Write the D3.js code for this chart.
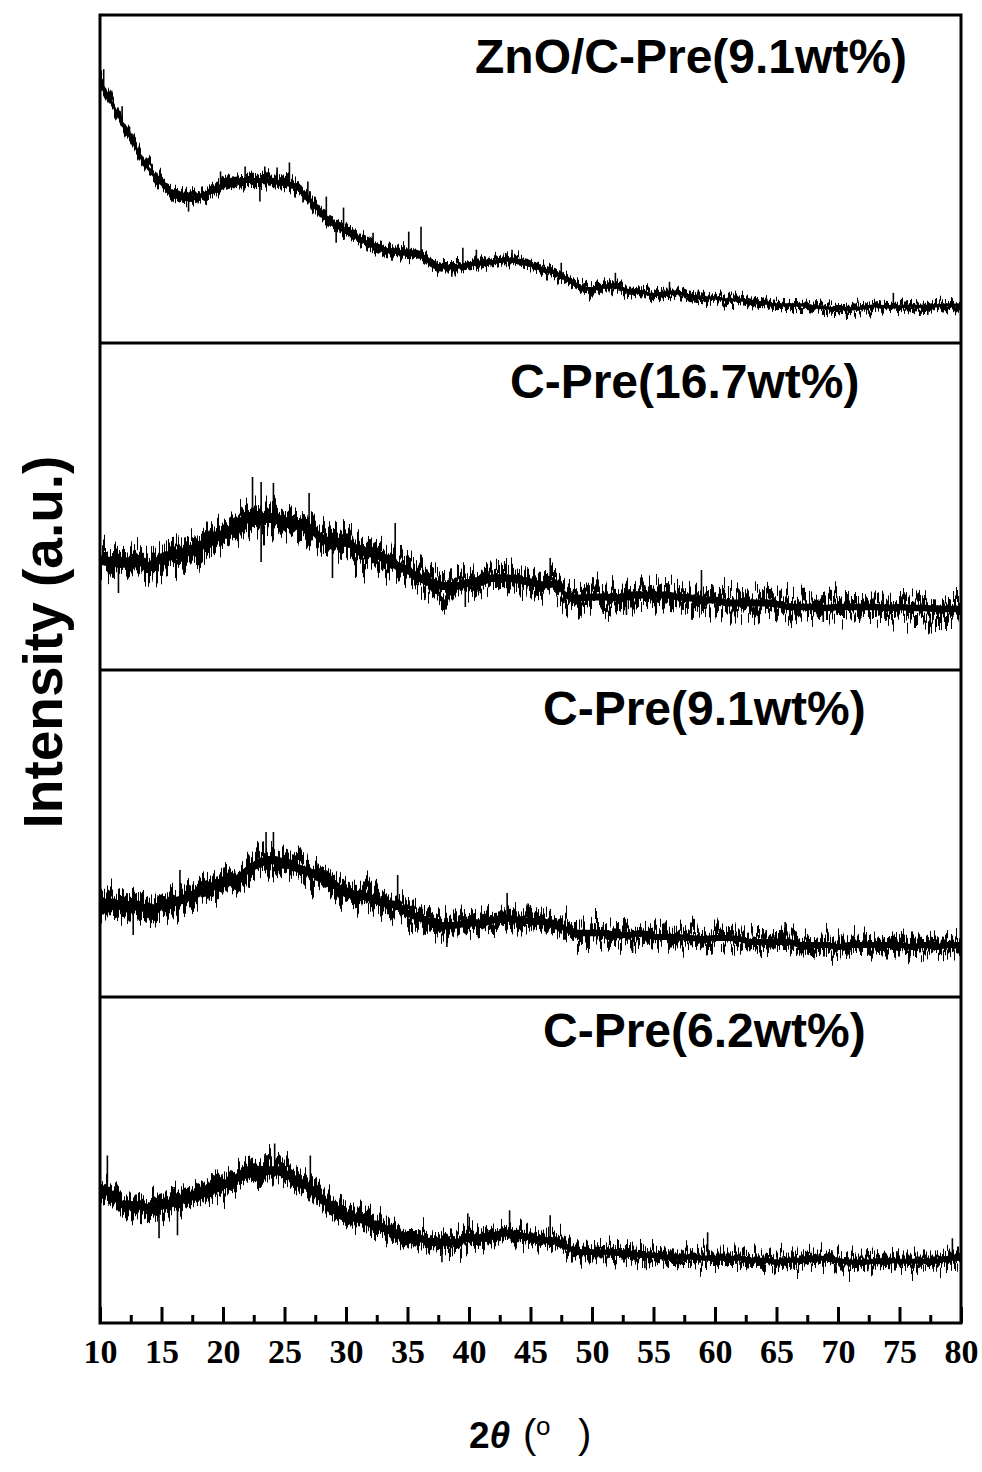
<!DOCTYPE html>
<html><head><meta charset="utf-8">
<script src="https://cdn.jsdelivr.net/npm/d3@7/dist/d3.min.js"></script>
<style>body{margin:0;background:#fff}</style>
</head><body>
<svg id="c" width="982" height="1472"></svg>
<script>
// 2θ sampling grid (degrees)
const twoTheta = [10,11,12,13,14,15,16,17,18,19,20,21,22,23,24,25,26,27,28,29,30,31,32,33,34,35,36,37,38,39,40,41,42,43,44,45,46,47,48,49,50,51,52,53,54,55,56,57,58,59,60,61,62,63,64,65,66,67,68,69,70,71,72,73,74,75,76,77,78,79,80];
const panelLabels = ["ZnO/C-Pre(9.1wt%)", "C-Pre(16.7wt%)", "C-Pre(9.1wt%)", "C-Pre(6.2wt%)"];
// mean intensity (a.u., offset within each panel)
const sZnO91 = [263,238,215,193,173,159,149,144,146,151,157,161,162,162,161,159,156,143,130,119,111,105,98,93,91,90,88,79,76,76,78,80,81,83,82,78,73,70,63,56,54,56,56,52,51,48,50,50,46,45,45,43,43,41,40,38,38,38,36,35,34,34,35,37,36,36,37,36,37,38,37];
const sC167 = [110,108,107,110,103,112,115,118,123,132,135,143,152,152,152,148,145,142,132,127,128,120,117,113,105,100,92,87,84,84,87,88,92,92,90,88,85,86,74,72,73,73,72,75,75,75,75,73,72,70,70,67,67,67,67,66,63,63,63,62,63,63,63,63,62,63,62,62,61,61,61];
const sC91 = [94,94,90,92,87,92,95,99,105,110,114,117,127,134,137,134,129,125,120,114,104,102,99,94,92,84,79,75,71,72,74,74,77,79,77,76,75,74,67,64,64,64,62,62,64,60,60,60,59,58,59,59,58,55,55,55,55,52,52,52,50,52,52,52,52,52,50,52,50,52,52];
const sC62 = [136,128,118,118,115,118,121,126,130,133,138,145,150,153,153,150,143,136,125,115,108,105,100,96,90,85,85,81,81,81,85,85,88,90,88,86,83,83,76,71,71,71,70,70,68,68,66,66,66,65,65,65,65,63,63,61,63,63,65,65,63,61,61,62,63,62,62,62,62,65,65];
// noise half-width at 2θ = 10,20,...,80
const noiseAt = [10,20,30,40,50,60,70,80];
const nZnO91 = [8,8,8,6,6,5,5,5];
const nC167 = [15,16,15,12,11,11,10,10];
const nC91 = [14,14,13,11,10,9,9,9];
const nC62 = [13,14,13,11,9,8,8,8];
// isolated spikes: [2θ, intensity]
const kZnO91 = [[10.3,273],[11.8,236],[12.4,216],[14.6,170],[17.2,131],[19.8,171],[21.8,176],[23.0,141],[23.4,176],[24.4,175],[25.4,180],[26.5,140],[26.9,161],[28.4,146],[29.2,100],[29.8,135],[32.2,110],[35.1,111],[36.1,116],[38.6,66],[39.5,95],[40.6,93],[43.5,93],[47.5,80],[51.9,70],[56.3,61],[70.7,26],[74.5,50],[77.3,28]];
const kC167 = [[11.5,77],[22.4,193],[23.1,188],[23.1,108],[24.1,187],[27.0,177],[28.9,92],[34.0,147],[39.7,63],[46.6,112],[52.8,55],[58.9,100],[68.8,48]];
const kC91 = [[12.7,62],[16.5,127],[23.5,165],[24.1,165],[34.2,122],[38.2,50],[43.1,104],[53.3,44],[65.7,75]];
const kC62 = [[10.6,168],[14.8,85],[16.3,88],[24.2,180],[27.1,168],[37.8,61],[39.9,110],[43.3,113],[46.6,108],[54.3,55],[59.4,91],[79.3,85]];
const majorTicks = [10,15,20,25,30,35,40,45,50,55,60,65,70,75,80];
const minorTicks = [12.5,17.5,22.5,27.5,32.5,37.5,42.5,47.5,52.5,57.5,62.5,67.5,72.5,77.5];

const series = [sZnO91, sC167, sC91, sC62];
const noises = [nZnO91, nC167, nC91, nC62];
const spikes = [kZnO91, kC167, kC91, kC62];
const jitter = [28, 64, 56, 52];   // rendering texture strength (px) for the dense scan noise

const svg = d3.select("#c");
const L = 100, R = 961;
const bounds = [15, 343, 670, 997, 1323];
const x = d3.scaleLinear().domain([10, 80]).range([L, R]);

const defs = svg.append("defs");
defs.append("clipPath").attr("id","clip")
  .append("rect").attr("x",L).attr("y",bounds[0]).attr("width",R-L).attr("height",bounds[4]-bounds[0]);
jitter.forEach((s, i) => {
  [0,1].forEach(k => {
    const f = defs.append("filter").attr("id",`tex${i}_${k}`).attr("x","-2%").attr("y","-80%")
      .attr("width","104%").attr("height","260%").attr("color-interpolation-filters","sRGB");
    f.append("feTurbulence").attr("type","fractalNoise").attr("baseFrequency", k ? "0.8 0.004" : "0.35 0.004")
      .attr("numOctaves",2).attr("seed",i*3+k+2).attr("result","n");
    f.append("feColorMatrix").attr("in","n").attr("type","matrix")
      .attr("values","0 0 0 0 0.5  0 1 0 0 0  0 0 1 0 0  0 0 0 0 1").attr("result","m");
    f.append("feDisplacementMap").attr("in","SourceGraphic").attr("in2","m").attr("scale", k ? s*0.8 : s)
      .attr("xChannelSelector","R").attr("yChannelSelector","G");
  });
});

const plot = svg.append("g").attr("clip-path","url(#clip)");
const labelPos = [[475,73],[510,398],[543,725],[543,1047]];

series.forEach((vals, i) => {
  const y = d3.scaleLinear().domain([0, 327]).range([bounds[i+1], bounds[i]]);
  const hw = d3.scaleLinear().domain(noiseAt).range(noises[i]);
  const data = twoTheta.map((t, j) => ({t, v: vals[j]}));
  const band = f => d3.area().x(d => x(d.t)).y0(d => y(d.v - f*hw(d.t))).y1(d => y(d.v + f*hw(d.t)))
    .curve(d3.curveMonotoneX)(data);
  plot.append("path").attr("d", band(0.6)).attr("fill", "#000").attr("filter", `url(#tex${i}_0)`);
  plot.append("path").attr("d", band(0.45)).attr("fill", "#000").attr("filter", `url(#tex${i}_1)`);
  plot.append("path").attr("d", band(0.32)).attr("fill", "#000");
  const mean = d3.scaleLinear().domain(twoTheta).range(vals);
  plot.selectAll(null).data(spikes[i]).enter().append("line")
    .attr("x1", d => x(d[0])).attr("x2", d => x(d[0]))
    .attr("y1", d => y(mean(d[0]))).attr("y2", d => y(d[1]))
    .attr("stroke","#000").attr("stroke-width",1.6);
  svg.append("text").attr("x", labelPos[i][0]).attr("y", labelPos[i][1])
    .attr("font-family","'Liberation Sans', Arial, sans-serif").attr("font-weight","bold")
    .attr("font-size",48).attr("fill","#000").text(panelLabels[i]);
});

// frame and dividers
svg.append("rect").attr("x",L).attr("y",bounds[0]).attr("width",R-L).attr("height",bounds[4]-bounds[0])
  .attr("fill","none").attr("stroke","#000").attr("stroke-width",3);
[1,2,3].forEach(k => svg.append("line").attr("x1",L).attr("x2",R).attr("y1",bounds[k]).attr("y2",bounds[k])
  .attr("stroke","#000").attr("stroke-width",3));

// x axis ticks
const axMaj = svg.append("g").attr("transform",`translate(0,${bounds[4]})`)
  .call(d3.axisBottom(x).tickValues(majorTicks).tickSize(-16).tickPadding(16).tickFormat(d3.format("d")));
axMaj.select(".domain").remove();
axMaj.selectAll(".tick line").attr("stroke-width",3);
axMaj.selectAll("text").attr("font-family","'Liberation Serif','Times New Roman',serif")
  .attr("font-weight","bold").attr("font-size",34).attr("fill","#000");
const axMin = svg.append("g").attr("transform",`translate(0,${bounds[4]})`)
  .call(d3.axisBottom(x).tickValues(minorTicks).tickSize(-8).tickFormat(""));
axMin.select(".domain").remove();
axMin.selectAll(".tick line").attr("stroke-width",3);

// axis titles
svg.append("text").attr("transform","translate(62,642) rotate(-90)").attr("text-anchor","middle")
  .attr("font-family","'Liberation Sans', Arial, sans-serif").attr("font-weight","bold")
  .attr("font-size",55).attr("fill","#000").text("Intensity (a.u.)");

const xt = svg.append("text").attr("y",1448).attr("font-family","'Liberation Sans', Arial, sans-serif").attr("fill","#000");
xt.append("tspan").attr("x",469).attr("font-size",37).attr("font-weight","bold").text("2");
xt.append("tspan").attr("font-size",37).attr("font-weight","bold").attr("font-style","italic").text("θ");
xt.append("tspan").attr("x",523).attr("font-size",40).text("(");
xt.append("tspan").attr("x",536).attr("dy",-13).attr("font-size",26).text("o");
xt.append("tspan").attr("x",578).attr("dy",13).attr("font-size",40).text(")");
</script>
</body></html>
